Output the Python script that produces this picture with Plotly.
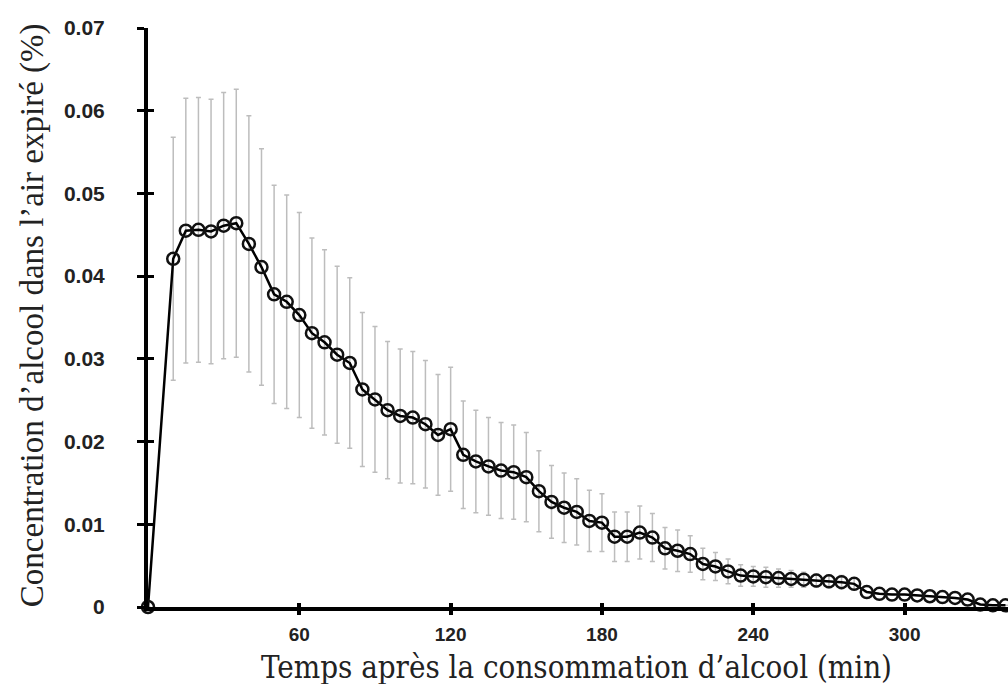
import plotly.graph_objects as go

time_min = [0, 10, 15, 20, 25, 30, 35, 40, 45, 50, 55, 60, 65, 70, 75, 80, 85, 90, 95,
            100, 105, 110, 115, 120, 125, 130, 135, 140, 145, 150, 155, 160, 165, 170,
            175, 180, 185, 190, 195, 200, 205, 210, 215, 220, 225, 230, 235, 240, 245,
            250, 255, 260, 265, 270, 275, 280, 285, 290, 295, 300, 305, 310, 315, 320,
            325, 330, 335, 340]

concentration = [0.0, 0.0421, 0.0455, 0.0456, 0.0454, 0.0461, 0.0464, 0.0439, 0.0411, 0.0378,
                 0.0369, 0.0353, 0.0331, 0.0320, 0.0305, 0.0295, 0.0263, 0.0251, 0.0238,
                 0.0231, 0.0229, 0.0221, 0.0208, 0.0215, 0.0184, 0.0176, 0.0170, 0.0165,
                 0.0163, 0.0157, 0.0140, 0.0127, 0.0120, 0.0115, 0.0104, 0.0102, 0.0085,
                 0.0085, 0.0090, 0.0084, 0.0071, 0.0068, 0.0064, 0.0052, 0.0049, 0.0043,
                 0.0038, 0.0037, 0.0036, 0.0035, 0.0034, 0.0033, 0.0032, 0.0031, 0.0030,
                 0.0028, 0.0018, 0.0016, 0.0015, 0.0015, 0.0014, 0.0013, 0.0012, 0.0011,
                 0.0009, 0.0003, 0.0002, 0.0002]

error_sd = [0.0, 0.0147, 0.0160, 0.0160, 0.0160, 0.0161, 0.0162, 0.0155, 0.0143, 0.0132,
            0.0129, 0.0124, 0.0115, 0.0112, 0.0107, 0.0103, 0.0093, 0.0088, 0.0083,
            0.0081, 0.0080, 0.0077, 0.0073, 0.0075, 0.0065, 0.0062, 0.0059, 0.0058,
            0.0057, 0.0054, 0.0049, 0.0044, 0.0042, 0.0040, 0.0037, 0.0035, 0.0030,
            0.0030, 0.0032, 0.0029, 0.0025, 0.0025, 0.0022, 0.0019, 0.0017, 0.0015,
            0.0013, 0.0012, 0.0012, 0.0011, 0.0010, 0.0009, 0.0008, 0.0008, 0.0008,
            0.0007, 0.0, 0.0, 0.0, 0.0, 0.0, 0.0, 0.0, 0.0,
            0.0, 0.0, 0.0, 0.0]

x_ticks = [60, 120, 180, 240, 300]
y_ticks = [0, 0.01, 0.02, 0.03, 0.04, 0.05, 0.06, 0.07]
y_tick_labels = ["0", "0.01", "0.02", "0.03", "0.04", "0.05", "0.06", "0.07"]

x_title = "Temps après la consommation d’alcool (min)"
y_title = "Concentration d’alcool dans l’air expiré (%)"

X_RANGE = [0, 341]
Y_RANGE = [0, 0.07]

fig = go.Figure()
fig.add_trace(go.Scatter(
    x=time_min, y=concentration,
    mode="lines+markers",
    line=dict(color="black", width=2.5),
    marker=dict(symbol="circle-open", size=12, color="#111", line=dict(width=2.5)),
    error_y=dict(type="data", array=error_sd, visible=True, color="#bdbdbd",
                 thickness=1.5, width=2.5),
    cliponaxis=False,
    showlegend=False,
))

y_font = dict(family="Liberation Sans, Arial, sans-serif", size=21, color="#222", weight="bold")
x_font = dict(family="Liberation Sans, Arial, sans-serif", size=19, color="#222", weight="bold")

fig.update_layout(
    width=1008, height=684,
    margin=dict(l=148, r=0, t=28, b=77, autoexpand=False),
    paper_bgcolor="white", plot_bgcolor="white",
    xaxis=dict(range=X_RANGE, tickvals=x_ticks, ticktext=[str(v) for v in x_ticks],
               showgrid=False, zeroline=False, showline=True, linecolor="black", linewidth=4,
               ticks="outside", ticklen=4, tickwidth=4, tickcolor="black",
               tickfont=x_font, ticklabelstandoff=3, automargin=False),
    yaxis=dict(range=Y_RANGE, tickvals=y_ticks, ticktext=y_tick_labels,
               showgrid=False, zeroline=False, showline=True, linecolor="black", linewidth=4,
               ticks="outside", ticklen=7, tickwidth=3, tickcolor="black",
               tickfont=y_font, ticklabelstandoff=28, automargin=False),
    xaxis2=dict(range=X_RANGE, overlaying="x", anchor="y", side="bottom", tickvals=x_ticks,
                showticklabels=False, showgrid=False, zeroline=False, showline=False,
                ticks="inside", ticklen=4, tickwidth=4, tickcolor="black"),
    yaxis2=dict(range=Y_RANGE, overlaying="y", anchor="x", side="left", tickvals=y_ticks,
                showticklabels=False, showgrid=False, zeroline=False, showline=False,
                ticks="inside", ticklen=6, tickwidth=3, tickcolor="black"),
    annotations=[
        dict(text=x_title, xref="paper", yref="paper", x=0.4988, y=-0.104,
             xanchor="center", yanchor="middle", showarrow=False,
             font=dict(family="DejaVu Serif Condensed, DejaVu Serif, serif", size=31, color="#222")),
        dict(text=y_title, xref="paper", yref="paper", x=-0.1349, y=0.504, textangle=-90,
             xanchor="center", yanchor="middle", showarrow=False,
             font=dict(family="Liberation Serif, Times New Roman, serif", size=33, color="#222")),
    ],
)

fig.add_trace(go.Scatter(x=[None], y=[None], xaxis="x2", yaxis="y2", showlegend=False,
                         hoverinfo="skip"))

fig.write_html("out.html", config={"displayModeBar": False},
               post_script="document.body.style.margin='0';document.body.style.overflow='hidden';")
